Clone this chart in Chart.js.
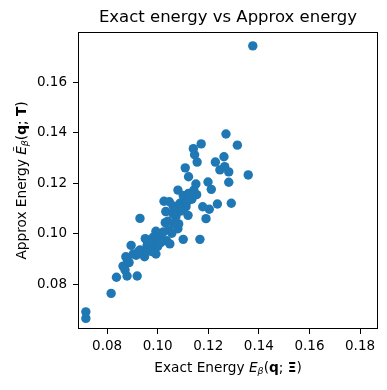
<!DOCTYPE html>
<html>
<head>
<meta charset="utf-8">
<script src="https://cdn.jsdelivr.net/npm/chart.js@4/dist/chart.umd.min.js"></script>
<style>
  html, body { margin: 0; padding: 0; background: #fff; }
  #wrap { width: 387px; height: 390px; }
</style>
</head>
<body>
<div id="wrap"><canvas id="scatter" width="387" height="390"></canvas></div>
<script>
// Values
const exactEnergy = [
  0.1376, 0.1270, 0.1315, 0.1172, 0.1141, 0.1146, 0.1156, 0.1109, 0.1122, 0.1262,
  0.1228, 0.1246, 0.1265, 0.1281, 0.1358, 0.1281, 0.1199, 0.1212, 0.1151, 0.1080,
  0.1291, 0.1236, 0.1204, 0.1178, 0.1191, 0.1167, 0.1101, 0.0930, 0.0716, 0.0716,
  0.0816, 0.0837, 0.0919, 0.0879, 0.0863, 0.0871, 0.0887, 0.0874, 0.0880, 0.0895,
  0.0903, 0.0930, 0.0948, 0.0951, 0.0958, 0.0993, 0.0993, 0.0982, 0.0974, 0.1009,
  0.0990, 0.1030, 0.1022, 0.1035, 0.1048, 0.1043, 0.1056, 0.1080, 0.1083, 0.1072,
  0.1032, 0.1025, 0.1046, 0.1061, 0.1072, 0.1088, 0.1104, 0.1120, 0.1101, 0.1122,
  0.1135, 0.1143, 0.1154, 0.1112, 0.1097, 0.0962, 0.0968, 0.0944, 0.0975, 0.1003,
  0.1015, 0.1065, 0.1090, 0.1115, 0.1130, 0.1040, 0.1060, 0.0915, 0.0925, 0.0960,
  0.1000, 0.1012
];
const approxEnergy = [
  0.1744, 0.1395, 0.1351, 0.1356, 0.1337, 0.1313, 0.1284, 0.1261, 0.1226, 0.1305,
  0.1284, 0.1253, 0.1266, 0.1245, 0.1233, 0.1204, 0.1205, 0.1176, 0.1197, 0.1173,
  0.1121, 0.1118, 0.1097, 0.1107, 0.1060, 0.0978, 0.0978, 0.1061, 0.0691, 0.0665,
  0.0764, 0.0828, 0.0833, 0.0833, 0.0872, 0.0857, 0.0886, 0.0909, 0.0897, 0.0954,
  0.0920, 0.0936, 0.0909, 0.0981, 0.0952, 0.0920, 0.1010, 0.0986, 0.0968, 0.0978,
  0.0962, 0.1044, 0.1007, 0.0973, 0.0960, 0.1015, 0.1002, 0.1020, 0.1039, 0.1068,
  0.1088, 0.1129, 0.1127, 0.1110, 0.1094, 0.1121, 0.1134, 0.1073, 0.1152, 0.1160,
  0.1137, 0.1173, 0.1155, 0.1107, 0.1099, 0.0940, 0.0970, 0.0926, 0.0930, 0.0990,
  0.1000, 0.1040, 0.1090, 0.1125, 0.1150, 0.1050, 0.1080, 0.0915, 0.0930, 0.0965,
  0.0950, 0.0965
];
const xTicks = [0.08, 0.10, 0.12, 0.14, 0.16, 0.18];
const yTicks = [0.08, 0.10, 0.12, 0.14, 0.16];

const chartTitle = "Exact energy vs Approx energy";
// label pieces: [text, style, subscript]
const xLabelParts = [
  ["Exact Energy ", "normal"], ["E", "italic"], ["\u03b2", "italic", true],
  ["(", "normal"], ["q", "bold"], ["; ", "normal"], ["\u039e", "bold"], [")", "normal"]
];
const yLabelParts = [
  ["Approx Energy ", "normal"], ["\u1ebc", "italic"], ["\u03b2", "italic", true],
  ["(", "normal"], ["q", "bold"], ["; ", "normal"], ["T", "bold"], [")", "normal"]
];

const FONT = "'DejaVu Sans', sans-serif";

function partFont(style, sub) {
  const size = sub ? 9.5 : 13.7;
  if (style === "italic") return "italic " + size + "px " + FONT;
  if (style === "bold") return "bold " + size + "px " + FONT;
  return size + "px " + FONT;
}

function drawParts(ctx, parts, cx, cy) {
  let total = 0;
  parts.forEach((p) => {
    ctx.font = partFont(p[1], p[2]);
    total += ctx.measureText(p[0]).width;
  });
  let x = cx - total / 2;
  ctx.textAlign = "left";
  ctx.textBaseline = "middle";
  parts.forEach((p) => {
    ctx.font = partFont(p[1], p[2]);
    ctx.fillText(p[0], x, p[2] ? cy + 4 : cy);
    x += ctx.measureText(p[0]).width;
  });
}

// Title, frame and axis labels
const decorPlugin = {
  id: "decor",
  afterDatasetsDraw(chart) {
    const ctx = chart.ctx;
    const a = chart.chartArea;
    ctx.save();
    ctx.strokeStyle = "#000";
    ctx.lineWidth = 1;
    ctx.strokeRect(a.left + 0.5, a.top + 0.5, a.right - a.left - 1, a.bottom - a.top - 1);
    ctx.fillStyle = "#000";
    ctx.font = "16.5px " + FONT;
    ctx.textAlign = "center";
    ctx.textBaseline = "middle";
    ctx.fillText(chartTitle, (a.left + a.right) / 2, 18);
    drawParts(ctx, xLabelParts, (a.left + a.right) / 2, 368);
    ctx.translate(22, (a.top + a.bottom) / 2);
    ctx.rotate(-Math.PI / 2);
    drawParts(ctx, yLabelParts, 0, 0);
    ctx.restore();
  },
};

const points = exactEnergy.map((x, i) => ({ x: x, y: approxEnergy[i] }));

new Chart(document.getElementById("scatter").getContext("2d"), {
  type: "scatter",
  data: {
    datasets: [
      {
        data: points,
        backgroundColor: "#1f77b4",
        borderColor: "#1f77b4",
        borderWidth: 0,
        pointRadius: 4.7,
      },
    ],
  },
  options: {
    responsive: false,
    animation: false,
    layout: { padding: { top: 32, right: 9, left: 0, bottom: 0 } },
    plugins: {
      legend: { display: false },
      tooltip: { enabled: false },
    },
    scales: {
      x: {
        type: "linear",
        min: 0.0685,
        max: 0.1871,
        afterBuildTicks: (scale) => {
          scale.ticks = xTicks.map((v) => ({ value: v }));
        },
        afterFit: (scale) => {
          scale.height = 61;
        },
        grid: {
          drawOnChartArea: false,
          drawTicks: true,
          tickLength: 5,
          color: "#000",
        },
        border: { display: false },
        ticks: {
          color: "#000",
          padding: 4,
          maxRotation: 0,
          font: { family: FONT, size: 13.5 },
          callback: (v) => Number(v).toFixed(2),
        },
      },
      y: {
        type: "linear",
        min: 0.0623,
        max: 0.1799,
        afterBuildTicks: (scale) => {
          scale.ticks = yTicks.map((v) => ({ value: v }));
        },
        afterFit: (scale) => {
          scale.width = 78;
        },
        grid: {
          drawOnChartArea: false,
          drawTicks: true,
          tickLength: 5,
          color: "#000",
        },
        border: { display: false },
        ticks: {
          color: "#000",
          padding: 6,
          font: { family: FONT, size: 13.5 },
          callback: (v) => Number(v).toFixed(2),
        },
      },
    },
  },
  plugins: [decorPlugin],
});
</script>
</body>
</html>
